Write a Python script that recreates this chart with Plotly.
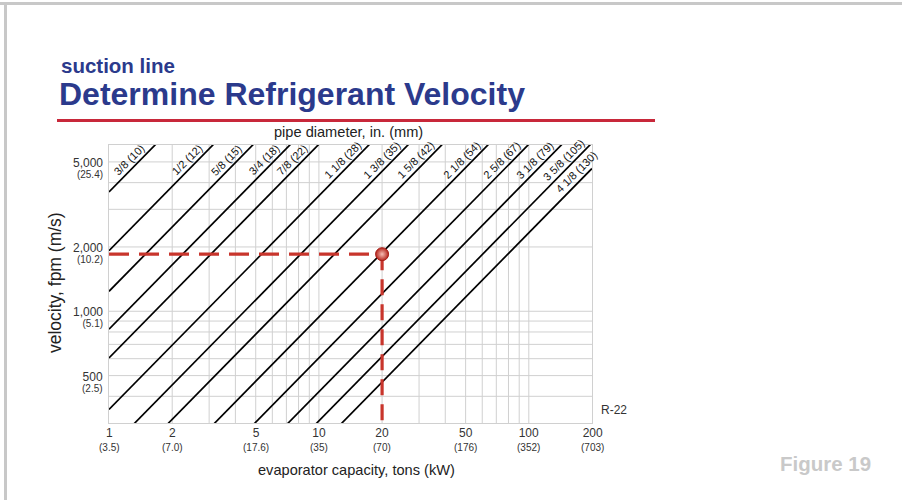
import math
import plotly.graph_objects as go

# ---------------- data ----------------
capacity_ticks = [1, 2, 5, 10, 20, 50, 100, 200]
capacity_kw = ["3.5", "7.0", "17.6", "35", "70", "176", "352", "703"]
velocity_ticks = [500, 1000, 2000, 5000]
velocity_fpm_text = ["500", "1,000", "2,000", "5,000"]
velocity_ms = ["2.5", "5.1", "10.2", "25.4"]
pipe_labels = ["3/8 (10)", "1/2 (12)", "5/8 (15)", "3/4 (18)", "7/8 (22)",
               "1 1/8 (28)", "1 3/8 (35)", "1 5/8 (42)", "2 1/8 (54)",
               "2 5/8 (67)", "3 1/8 (79)", "3 5/8 (105)", "4 1/8 (130)"]
# velocity (fpm) at 1 ton capacity for each pipe size
velocity_at_1_ton = [3620, 1920, 1240, 825, 605, 347, 226, 156, 94, 60.5, 42, 30.7, 23.3]
capacity_span = [1, 200]
velocity_span = [300, 6000]
example_capacity = 20
example_velocity = 1850

# ---------------- layout geometry ----------------
W, H = 902, 500
L, R, T, B = 109, 592, 145, 423
FONT = "Liberation Sans, Arial, sans-serif"
BLUE = "#2B3A8C"
RED = "#C8352C"
GRID = "#D0D0D0"
TXT = "#333333"


def px(xp):
    return (xp - L) / (R - L)


def py(yp):
    return (B - yp) / (B - T)


fig = go.Figure()

for k, name in zip(velocity_at_1_ton, pipe_labels):
    fig.add_trace(go.Scatter(
        x=capacity_span, y=[k * c for c in capacity_span], mode="lines",
        line=dict(color="black", width=1.7), name=name, showlegend=False,
        hoverinfo="skip"))

# example dashed read-off lines
fig.add_trace(go.Scatter(
    x=[capacity_span[0], example_capacity], y=[example_velocity, example_velocity],
    mode="lines", line=dict(color=RED, width=3.2, dash="20px,10px"),
    showlegend=False, hoverinfo="skip"))
fig.add_trace(go.Scatter(
    x=[example_capacity, example_capacity], y=[example_velocity, velocity_span[0]],
    mode="lines", line=dict(color=RED, width=3.2, dash="16px,9px"),
    showlegend=False, hoverinfo="skip"))
fig.add_trace(go.Scatter(
    x=[example_capacity], y=[example_velocity], mode="markers",
    marker=dict(size=13, color="#B3241B",
                gradient=dict(type="radial", color="#F7BDB4"),
                line=dict(color="#A82019", width=1)),
    showlegend=False, hoverinfo="skip"))

annotations = []
# pipe labels along the lines
for k, name in zip(velocity_at_1_ton, pipe_labels):
    q = min(4800 / k, 180)
    v = k * q
    annotations.append(dict(
        x=math.log10(q), y=math.log10(v), xref="x", yref="y", text=name,
        showarrow=False, textangle=-45, xshift=-6, yshift=6,
        font=dict(family=FONT, size=11, color="#111")))

# y tick labels (value line on the grid line, metric value below)
for v, t, m in zip(velocity_ticks, velocity_fpm_text, velocity_ms):
    annotations.append(dict(
        x=0, y=math.log10(v), xref="paper", yref="y",
        text=f"<span style='font-size:12px'>{t}</span><br>"
             f"<span style='font-size:10px'>({m})</span>",
        showarrow=False, xanchor="right", yanchor="middle", align="right",
        xshift=-5, yshift=-6, borderpad=0,
        font=dict(family=FONT, size=8.6, color=TXT)))
# x tick labels
for c, kw in zip(capacity_ticks, capacity_kw):
    annotations.append(dict(
        x=math.log10(c), y=0, xref="x", yref="paper",
        text=f"<span style='font-size:12px'>{c}</span><br>"
             f"<span style='font-size:10px'>({kw})</span>",
        showarrow=False, xanchor="center", yanchor="middle", align="center",
        yshift=-16, borderpad=0,
        font=dict(family=FONT, size=10.8, color=TXT)))

annotations += [
    dict(x=px(59), y=py(65), xref="paper", yref="paper", text="<b>suction line</b>",
         showarrow=False, xanchor="left", yanchor="middle",
         font=dict(family=FONT, size=20.5, color=BLUE)),
    dict(x=px(57), y=py(94), xref="paper", yref="paper",
         text="<b>Determine Refrigerant Velocity</b>",
         showarrow=False, xanchor="left", yanchor="middle",
         font=dict(family=FONT, size=32, color=BLUE)),
    dict(x=px(348), y=py(132), xref="paper", yref="paper", text="pipe diameter, in. (mm)",
         showarrow=False, xanchor="center", yanchor="middle",
         font=dict(family=FONT, size=14.6, color="#222")),
    dict(x=px(356), y=py(470), xref="paper", yref="paper",
         text="evaporator capacity, tons (kW)",
         showarrow=False, xanchor="center", yanchor="middle",
         font=dict(family=FONT, size=14.6, color="#222")),
    dict(x=px(55), y=py(283), xref="paper", yref="paper", text="velocity, fpm (m/s)",
         showarrow=False, xanchor="center", yanchor="middle", textangle=-90,
         font=dict(family=FONT, size=17.5, color="#222")),
    dict(x=px(614), y=py(410), xref="paper", yref="paper", text="R-22",
         showarrow=False, xanchor="center", yanchor="middle",
         font=dict(family=FONT, size=12, color=TXT)),
    dict(x=px(825), y=py(463), xref="paper", yref="paper", text="<b>Figure 19</b>",
         showarrow=False, xanchor="center", yanchor="middle",
         font=dict(family=FONT, size=20.5, color="#C9C9C9")),
]

shapes = [
    dict(type="line", xref="paper", yref="paper", x0=px(0), x1=px(W), y0=py(3.5), y1=py(3.5),
         line=dict(color="#C8C8C8", width=3)),
    dict(type="line", xref="paper", yref="paper", x0=px(5.5), x1=px(5.5), y0=py(2), y1=py(H),
         line=dict(color="#C8C8C8", width=3)),
    dict(type="line", xref="paper", yref="paper", x0=px(57), x1=px(655), y0=py(120.5), y1=py(120.5),
         line=dict(color="#C8283A", width=3)),
]

x_minor = [2, 3, 4, 5, 6, 7, 8, 9, 10, 20, 30, 40, 50, 60, 70, 80, 90, 100]
y_minor = [400, 500, 600, 700, 800, 900, 1000, 2000, 3000, 4000, 5000]

fig.update_layout(
    width=W, height=H,
    margin=dict(l=L, r=W - R, t=T, b=H - B),
    paper_bgcolor="white", plot_bgcolor="white",
    annotations=annotations, shapes=shapes,
    xaxis=dict(
        type="log", range=[0, math.log10(capacity_span[1])],
        showticklabels=False, ticks="", showgrid=False,
        showline=True, linecolor=GRID, linewidth=1, mirror=True,
        zeroline=False,
    ),
    yaxis=dict(
        type="log", range=[math.log10(velocity_span[0]), math.log10(velocity_span[1])],
        showticklabels=False, ticks="", showgrid=False,
        showline=True, linecolor=GRID, linewidth=1, mirror=True,
        zeroline=False,
    ),
)

# grid lines drawn as shapes in data coordinates
for xv in x_minor:
    fig.add_shape(type="line", xref="x", yref="paper", x0=xv, x1=xv, y0=0, y1=1,
                  line=dict(color=GRID, width=1), layer="below")
for yv in y_minor:
    fig.add_shape(type="line", xref="paper", yref="y", x0=0, x1=1, y0=yv, y1=yv,
                  line=dict(color=GRID, width=1), layer="below")

fig.write_html("out.html", config={"displayModeBar": False},
               post_script="document.body.style.margin='0';")
